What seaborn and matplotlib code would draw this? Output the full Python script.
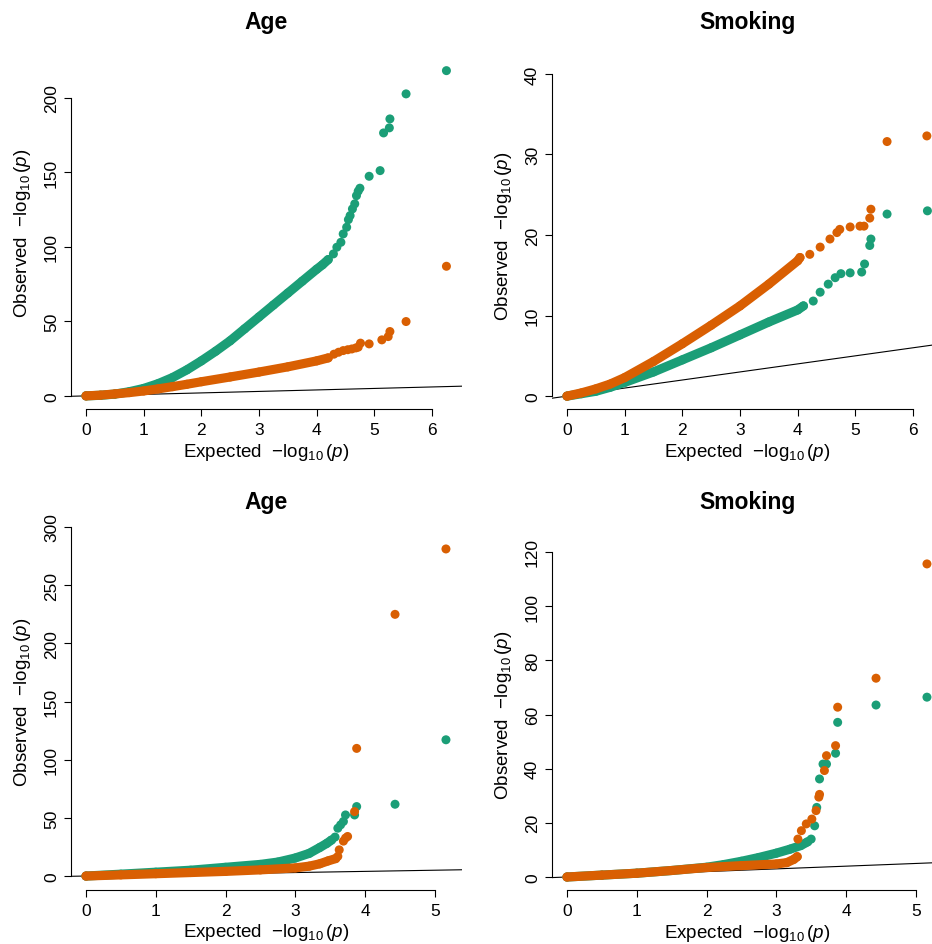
import matplotlib
matplotlib.use("Agg")
import matplotlib.pyplot as plt
import seaborn as sns

# ---------------- data ----------------
# Top-left: Age
age1_green_band_x = [0.0, 0.25, 0.5, 0.75, 1.0, 1.25, 1.5, 1.75, 2.0, 2.25, 2.5, 2.75, 3.0, 3.25, 3.5, 3.75, 4.0, 4.1, 4.2]
age1_green_band_y = [0.0, 0.4, 1.2, 2.8, 5.0, 8.2, 12.3, 17.5, 23.5, 30.0, 37.0, 45.0, 53.0, 61.0, 69.0, 77.0, 85.0, 88.0, 91.5]
age1_green_tail_x = [4.29, 4.35, 4.42, 4.46, 4.52, 4.55, 4.58, 4.62, 4.66, 4.69, 4.72, 4.75, 4.91, 5.10, 5.16, 5.26, 5.27, 5.55, 6.25]
age1_green_tail_y = [95.3, 99.8, 103.1, 108.7, 113.2, 118.3, 121.0, 125.5, 128.9, 134.4, 137.4, 139.4, 147.4, 151.2, 176.5, 179.9, 185.9, 202.7, 218.3]
age1_orange_band_x = [0.0, 0.25, 0.5, 0.75, 1.0, 1.25, 1.5, 1.75, 2.0, 2.5, 3.0, 3.5, 4.0, 4.2]
age1_orange_band_y = [0.0, 0.5, 1.3, 2.2, 3.3, 4.7, 6.2, 7.8, 9.5, 12.7, 16.0, 19.5, 23.5, 25.5]
age1_orange_tail_x = [4.30, 4.38, 4.46, 4.54, 4.61, 4.68, 4.72, 4.76, 4.91, 5.13, 5.24, 5.27, 5.55, 6.25]
age1_orange_tail_y = [28.0, 29.3, 30.4, 31.0, 31.5, 32.2, 32.7, 35.4, 34.9, 37.6, 39.8, 43.2, 49.9, 87.0]

# Top-right: Smoking
smk1_green_band_x = [0.0, 0.25, 0.5, 0.75, 1.0, 1.5, 2.0, 2.5, 3.0, 3.5, 4.0, 4.1]
smk1_green_band_y = [0.0, 0.3, 0.6, 1.1, 1.7, 3.0, 4.5, 6.0, 7.6, 9.2, 10.7, 11.2]
smk1_green_tail_x = [4.27, 4.39, 4.53, 4.65, 4.75, 4.91, 5.11, 5.16, 5.25, 5.27, 5.55, 6.25]
smk1_green_tail_y = [11.8, 12.9, 13.9, 14.7, 15.2, 15.3, 15.4, 16.4, 18.7, 19.5, 22.6, 23.0]
smk1_orange_band_x = [0.0, 0.25, 0.5, 0.75, 1.0, 1.5, 2.0, 2.5, 3.0, 3.5, 4.0, 4.04]
smk1_orange_band_y = [0.0, 0.4, 0.9, 1.5, 2.3, 4.3, 6.5, 8.8, 11.2, 13.9, 16.8, 17.2]
smk1_orange_tail_x = [4.21, 4.39, 4.56, 4.68, 4.73, 4.91, 5.08, 5.15, 5.25, 5.27, 5.55, 6.24]
smk1_orange_tail_y = [17.6, 18.5, 19.5, 20.3, 20.7, 21.0, 21.1, 21.1, 22.1, 23.2, 31.6, 32.3]

# Bottom-left: Age
age2_green_band_x = [0.0, 0.5, 1.0, 1.5, 2.0, 2.5, 2.75, 3.0, 3.2, 3.35, 3.45, 3.52]
age2_green_band_y = [0.0, 1.6, 3.3, 5.0, 7.5, 10.0, 12.0, 15.5, 19.5, 24.5, 28.0, 31.0]
age2_green_tail_x = [3.57, 3.61, 3.65, 3.69, 3.72, 3.85, 3.88, 4.43, 5.16]
age2_green_tail_y = [33.5, 41.1, 44.0, 46.9, 52.5, 52.5, 59.7, 61.7, 117.1]
age2_orange_band_x = [0.0, 0.5, 1.0, 1.5, 2.0, 2.5, 3.0, 3.2, 3.35, 3.47, 3.58]
age2_orange_band_y = [0.0, 1.0, 2.0, 3.0, 4.0, 5.3, 7.0, 8.5, 10.5, 13.0, 15.0]
age2_orange_tail_x = [3.61, 3.63, 3.69, 3.72, 3.75, 3.85, 3.88, 4.43, 5.16]
age2_orange_tail_y = [16.9, 22.5, 30.0, 32.6, 34.0, 55.4, 109.7, 224.9, 281.1]

# Bottom-right: Smoking
smk2_green_band_x = [0.0, 0.5, 1.0, 1.5, 2.0, 2.25, 2.5, 2.75, 3.0, 3.2, 3.35, 3.45]
smk2_green_band_y = [0.0, 0.7, 1.4, 2.4, 3.6, 4.6, 5.8, 7.2, 8.8, 10.3, 11.6, 13.0]
smk2_green_tail_x = [3.50, 3.55, 3.58, 3.62, 3.67, 3.72, 3.85, 3.88, 4.43, 5.16]
smk2_green_tail_y = [14.0, 18.9, 25.7, 36.2, 41.7, 41.7, 45.7, 57.1, 63.5, 66.4]
smk2_orange_band_x = [0.0, 0.5, 1.0, 1.5, 2.0, 2.5, 3.0, 3.15, 3.25, 3.3]
smk2_orange_band_y = [0.0, 0.7, 1.4, 2.4, 3.5, 4.2, 4.8, 5.3, 6.5, 7.5]
smk2_orange_tail_x = [3.31, 3.36, 3.43, 3.51, 3.57, 3.61, 3.62, 3.69, 3.72, 3.85, 3.88, 4.43, 5.16]
smk2_orange_tail_y = [14.0, 17.1, 19.6, 21.4, 24.5, 29.5, 30.5, 39.3, 44.8, 48.5, 62.7, 73.4, 115.6]

titles = ["Age", "Smoking", "Age", "Smoking"]
xticks_top = [0, 1, 2, 3, 4, 5, 6]
xticks_bottom = [0, 1, 2, 3, 4, 5]
yticks_age1 = [0, 50, 100, 150, 200]
yticks_smk1 = [0, 10, 20, 30, 40]
yticks_age2 = [0, 50, 100, 150, 200, 250, 300]
yticks_smk2 = [0, 20, 40, 60, 80, 100, 120]

GREEN = "#1B9E77"
ORANGE = "#D95F02"

# ---------------- style ----------------
sns.set_style("ticks")
plt.rcParams["font.family"] = ["Liberation Sans", "DejaVu Sans"]
plt.rcParams["mathtext.fontset"] = "custom"
plt.rcParams["mathtext.rm"] = "Liberation Sans"
plt.rcParams["mathtext.it"] = "Liberation Sans:italic"
plt.rcParams["mathtext.bf"] = "Liberation Sans:bold"
plt.rcParams["text.color"] = "black"

W, H = 932, 945
fig = plt.figure(figsize=(W / 100, H / 100), dpi=100)
fig.patch.set_facecolor("white")

panels = [
    dict(title=titles[0], rect=(71, 56, 462, 410), xlim=(-0.26, 6.52), ylim=(-8.8, 228.8),
         xt=xticks_top, yt=yticks_age1, title_y=22, xlab_y=453, ylab_x=22.5,
         series=[(GREEN, age1_green_band_x, age1_green_band_y, age1_green_tail_x, age1_green_tail_y),
                 (ORANGE, age1_orange_band_x, age1_orange_band_y, age1_orange_tail_x, age1_orange_tail_y)]),
    dict(title=titles[1], rect=(552, 62, 943, 410), xlim=(-0.26, 6.52), ylim=(-1.6, 41.6),
         xt=xticks_top, yt=yticks_smk1, title_y=22, xlab_y=453, ylab_x=503.5,
         series=[(GREEN, smk1_green_band_x, smk1_green_band_y, smk1_green_tail_x, smk1_green_tail_y),
                 (ORANGE, smk1_orange_band_x, smk1_orange_band_y, smk1_orange_tail_x, smk1_orange_tail_y)]),
    dict(title=titles[2], rect=(71, 514, 462, 891), xlim=(-0.215, 5.39), ylim=(-12, 312),
         xt=xticks_bottom, yt=yticks_age2, title_y=503, xlab_y=933, ylab_x=22.5,
         series=[(GREEN, age2_green_band_x, age2_green_band_y, age2_green_tail_x, age2_green_tail_y),
                 (ORANGE, age2_orange_band_x, age2_orange_band_y, age2_orange_tail_x, age2_orange_tail_y)]),
    dict(title=titles[3], rect=(552, 540, 943, 891), xlim=(-0.215, 5.39), ylim=(-4.8, 124.8),
         xt=xticks_bottom, yt=yticks_smk2, title_y=503, xlab_y=934, ylab_x=503.5,
         series=[(GREEN, smk2_green_band_x, smk2_green_band_y, smk2_green_tail_x, smk2_green_tail_y),
                 (ORANGE, smk2_orange_band_x, smk2_orange_band_y, smk2_orange_tail_x, smk2_orange_tail_y)]),
]

for p in panels:
    l, t, r, b = p["rect"]
    w, h = r - l, b - t
    ax = fig.add_axes([l / W, 1 - b / H, w / W, h / H])
    ax.set_facecolor("none")

    ax.axline((0, 0), (1, 1), color="black", lw=0.8, zorder=0.5)

    for k, (col, bx, by, tx, ty) in enumerate(p["series"]):
        z = 2 + 2 * k
        sns.lineplot(x=bx, y=by, ax=ax, color=col, lw=6.6, sort=False, estimator=None,
                     solid_capstyle="round", solid_joinstyle="round", legend=False, zorder=z)
        sns.scatterplot(x=list(bx) + list(tx), y=list(by) + list(ty), ax=ax, color=col,
                        s=42, edgecolor="none", linewidth=0, legend=False, zorder=z + 0.5)

    ax.set_xlim(*p["xlim"])
    ax.set_ylim(*p["ylim"])
    ax.set_xticks(p["xt"])
    ax.set_yticks(p["yt"])
    ax.set_xticklabels([str(v) for v in p["xt"]])
    ax.set_yticklabels([str(v) for v in p["yt"]])
    for s in ("top", "right"):
        ax.spines[s].set_visible(False)
    for s in ("left", "bottom"):
        ax.spines[s].set_color("black")
        ax.spines[s].set_linewidth(0.8)
    ax.spines["left"].set_bounds(p["yt"][0], p["yt"][-1])
    ax.spines["bottom"].set_bounds(p["xt"][0], p["xt"][-1])
    ax.tick_params(axis="both", direction="out", length=4.7, width=0.8, colors="black",
                   labelsize=12.5)
    ax.tick_params(axis="x", pad=5)
    ax.tick_params(axis="y", pad=4, labelrotation=90)
    for tk in ax.yaxis.get_major_ticks():
        tk.label1.set_va("center")

    ax.set_xlabel(r"Expected  $-\log_{10}(p)$", fontsize=13.5, color="black")
    ax.xaxis.set_label_coords(0.5, -(p["xlab_y"] - b) / h)
    ax.xaxis.label.set_va("center")
    ax.set_ylabel(r"Observed  $-\log_{10}(p)$", fontsize=13.5, color="black")
    ax.yaxis.set_label_coords(-(l - p["ylab_x"]) / w, 0.5)
    ax.yaxis.label.set_va("center")

    ax.set_title(p["title"], fontsize=16.5, fontweight="bold", color="black",
                 y=(b - p["title_y"]) / h, va="center", pad=0)

fig.savefig("out.png", dpi=100, facecolor="white")
